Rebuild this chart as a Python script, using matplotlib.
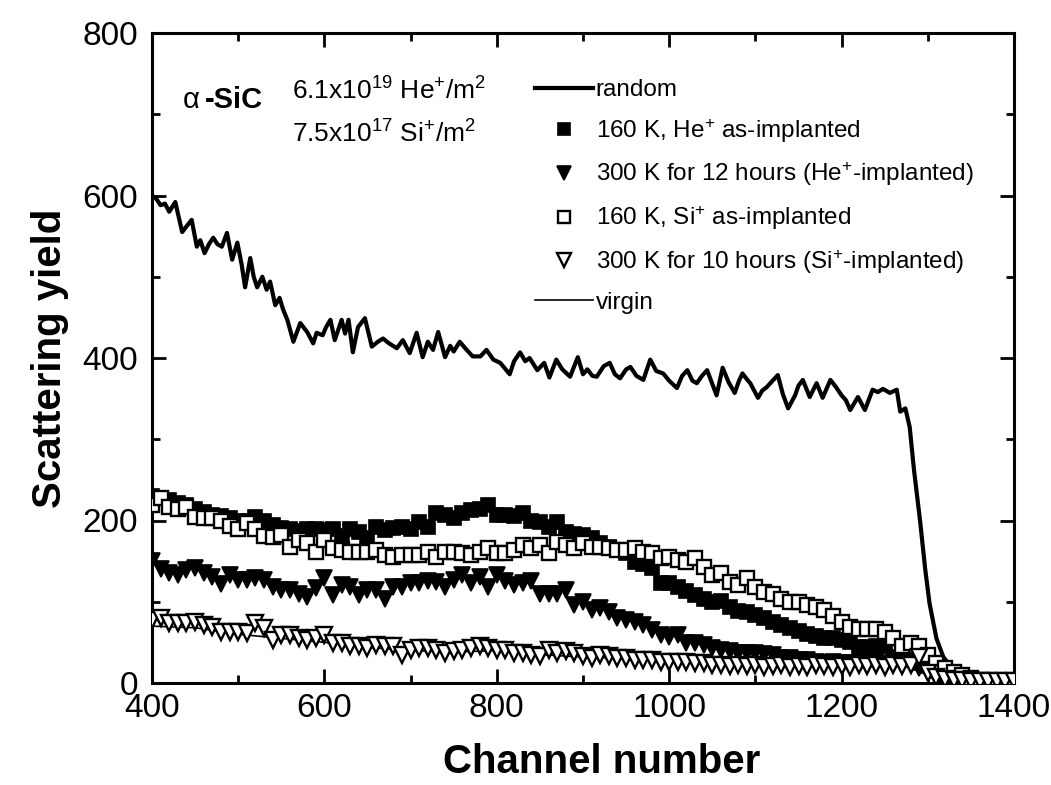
import matplotlib
matplotlib.use('Agg')
import matplotlib.pyplot as plt
import numpy as np

plt.rcParams.update({
    'font.family': ['Liberation Sans', 'DejaVu Sans'],
    'mathtext.fontset': 'custom',
    'mathtext.rm': 'Liberation Sans',
    'mathtext.it': 'Liberation Sans:italic',
    'mathtext.bf': 'Liberation Sans:bold',
    'axes.linewidth': 2.2,
})

# random spectrum (channel, yield)
random_ch = [400, 405, 410, 415, 420, 427, 435, 440, 446, 452, 456, 461, 466, 471, 476, 481, 487, 493, 499, 504,
             508, 514, 518, 522, 528, 533, 537, 543, 548, 552, 557, 564, 572, 580, 587, 591, 598, 602, 607, 612,
             620, 624, 628, 633, 639, 647, 655, 662, 668, 675, 684, 691, 699, 707, 714, 720, 726, 732, 740, 746,
             750, 757, 765, 772, 781, 788, 796, 804, 815, 820, 827, 833, 838, 847, 855, 861, 869, 876, 885, 894,
             900, 905, 911, 916, 924, 931, 937, 943, 950, 955, 962, 970, 978, 985, 993, 1000, 1009, 1015, 1021, 1027,
             1032, 1038, 1044, 1050, 1055, 1062, 1069, 1076, 1081, 1085, 1090, 1094, 1103, 1108, 1113, 1120, 1126, 1132, 1138, 1146,
             1150, 1155, 1163, 1171, 1178, 1187, 1193, 1200, 1205, 1210, 1219, 1227, 1236, 1242, 1248, 1256, 1264, 1268, 1274, 1279,
             1284, 1291, 1297, 1302, 1310, 1318, 1327, 1337, 1348, 1360, 1380, 1400]
random_y = [600, 596, 588, 590, 580, 592, 555, 562, 570, 537, 545, 529, 540, 548, 540, 537, 554, 521, 542, 515,
            487, 523, 500, 487, 500, 484, 494, 465, 474, 460, 447, 420, 443, 432, 418, 431, 428, 438, 447, 422,
            447, 430, 447, 407, 438, 449, 414, 420, 424, 418, 412, 422, 406, 431, 401, 420, 410, 432, 401, 415,
            408, 420, 410, 402, 402, 410, 398, 394, 380, 396, 407, 396, 400, 385, 394, 376, 398, 386, 377, 401,
            380, 386, 378, 377, 390, 394, 380, 375, 386, 389, 378, 373, 398, 384, 381, 372, 363, 378, 385, 372,
            369, 378, 385, 368, 354, 388, 370, 357, 372, 381, 374, 369, 351, 360, 364, 372, 379, 355, 338, 354,
            366, 373, 352, 369, 351, 373, 365, 354, 348, 336, 352, 336, 361, 358, 362, 357, 361, 334, 338, 315,
            262, 200, 140, 98, 55, 32, 20, 12, 6, 3, 2, 1]

# virgin (aligned) spectrum
virgin_ch = [400, 450, 500, 550, 600, 650, 700, 750, 800, 850, 900, 950, 1000, 1050, 1100, 1150, 1200, 1250, 1280,
             1300, 1320, 1340, 1400]
virgin_y = [70, 68, 60, 55, 50, 44, 40, 38, 40, 35, 32, 30, 26, 23, 21, 20, 20, 20, 22, 12, 5, 2, 1]

# aligned spectra, one point every 10 channels from 400 to 1400
channels = np.arange(400, 1401, 10)
he_160 = [230, 228, 225, 222, 219, 214, 211, 207, 205, 203, 200, 199, 204, 199, 194, 191, 190, 187, 190, 190,
          188, 189, 181, 190, 186, 178, 192, 188, 191, 192, 189, 198, 192, 209, 207, 203, 209, 213, 214, 219,
          207, 207, 205, 209, 200, 198, 192, 198, 186, 184, 182, 178, 172, 168, 164, 160, 149, 146, 141, 123,
          123, 118, 113, 108, 104, 100, 101, 93, 89, 87, 84, 80, 75, 72, 68, 64, 60, 58, 55, 56,
          53, 50, 44, 44, 46, 45, 32, 31, 28, 25, 21, 15, 9, 6, 4, 3, 3, 2, 2, 2, 2]
he_300 = [150, 140, 135, 133, 139, 141, 135, 130, 122, 133, 127, 127, 129, 127, 118, 114, 114, 110, 106, 117,
          129, 108, 121, 118, 108, 114, 114, 104, 118, 118, 123, 123, 125, 124, 118, 127, 133, 123, 130, 118,
          133, 125, 121, 123, 125, 110, 110, 110, 114, 96, 100, 90, 92, 87, 80, 78, 75, 71, 65, 59,
          57, 59, 49, 49, 47, 43, 41, 39, 37, 37, 37, 36, 34, 31, 31, 28, 28, 26, 25, 26,
          25, 25, 25, 25, 26, 24, 23, 24, 25, 18, 12, 7, 5, 3, 3, 2, 2, 2, 2, 2, 2]
si_160 = [219, 228, 217, 214, 217, 204, 203, 203, 199, 193, 190, 197, 189, 181, 180, 182, 167, 176, 172, 161,
          176, 166, 164, 161, 161, 161, 164, 158, 155, 158, 158, 158, 161, 155, 161, 161, 160, 158, 161, 166,
          160, 160, 164, 170, 166, 170, 160, 174, 170, 166, 172, 168, 168, 166, 164, 164, 166, 161, 160, 154,
          155, 151, 149, 154, 143, 133, 135, 124, 121, 129, 118, 112, 110, 104, 100, 100, 96, 94, 90, 82,
          75, 69, 67, 67, 67, 63, 55, 45, 49, 45, 34, 25, 18, 14, 10, 6, 4, 3, 3, 2, 2]
si_300 = [78, 80, 74, 74, 74, 75, 71, 69, 63, 63, 63, 62, 74, 68, 53, 59, 59, 55, 53, 55,
          59, 49, 49, 45, 45, 43, 47, 45, 45, 34, 41, 43, 43, 41, 37, 39, 41, 43, 45, 43,
          41, 41, 37, 37, 34, 33, 41, 37, 39, 37, 33, 31, 34, 33, 31, 31, 28, 28, 28, 26,
          26, 26, 26, 25, 25, 22, 22, 21, 22, 21, 22, 20, 21, 22, 20, 21, 20, 22, 21, 20,
          21, 20, 22, 21, 22, 20, 22, 21, 22, 32, 12, 7, 5, 4, 4, 3, 3, 3, 3, 3, 3]

fig = plt.figure(figsize=(10.51, 7.85), dpi=100)
ax = fig.add_axes([152 / 1051, 1 - 683 / 785, (1014 - 152) / 1051, (683 - 33) / 785])

ax.plot(random_ch, random_y, color='black', lw=3.0, label='random', zorder=3)
ax.plot(channels, he_160, ls='none', marker='s', ms=10.5, mfc='black', mec='black', mew=1.2,
        label=r'160 K, He$^{+}$ as-implanted', zorder=4)
ax.plot(channels, he_300, ls='none', marker='v', ms=11.5, mfc='black', mec='black', mew=1.2,
        label=r'300 K for 12 hours (He$^{+}$-implanted)', zorder=4)
ax.plot(channels, si_160, ls='none', marker='s', ms=10.5, mfc='white', mec='black', mew=1.7,
        label=r'160 K, Si$^{+}$ as-implanted', zorder=5)
ax.plot(channels, si_300, ls='none', marker='v', ms=11.5, mfc='white', mec='black', mew=1.7,
        label=r'300 K for 10 hours (Si$^{+}$-implanted)', zorder=5)
ax.plot(virgin_ch, virgin_y, color='black', lw=1.2, label='virgin', zorder=2)

ax.set_xlim(400, 1400)
ax.set_ylim(0, 800)
ax.set_xticks([400, 600, 800, 1000, 1200, 1400])
ax.set_yticks([0, 200, 400, 600, 800])
ax.set_xticks(np.arange(500, 1400, 200), minor=True)
ax.set_yticks([100, 300, 500, 700], minor=True)
ax.tick_params(which='both', direction='in', top=True, right=True, width=2, labelsize=24)
ax.tick_params(axis='x', pad=7)
ax.tick_params(axis='y', pad=10)
ax.tick_params(which='major', length=10)
ax.tick_params(which='minor', length=6)

ax.set_xlabel('Channel number', fontsize=29, fontweight='bold', labelpad=14)
ax.xaxis.label.set_x(0.522)
ax.set_ylabel('Scattering yield', fontsize=29, fontweight='bold', labelpad=10)

ax.text(446, 717, '\u03b1', fontsize=21, ha='center', va='center')
ax.text(461, 717, '-SiC', fontsize=21, fontweight='bold', ha='left', va='center')
ax.text(562, 718, r'6.1x10$^{19}$ He$^{+}$/m$^{2}$', fontsize=19, ha='left', va='baseline')
ax.text(562, 665, r'7.5x10$^{17}$ Si$^{+}$/m$^{2}$', fontsize=19, ha='left', va='baseline')

ax.legend(loc='upper left', bbox_to_anchor=(535 / 1051, 1 - 79 / 785), bbox_transform=fig.transFigure,
          frameon=False, fontsize=17.5, handlelength=2.4, handletextpad=0.1, labelspacing=0.65,
          borderpad=0, borderaxespad=0, numpoints=1, markerscale=0.85)

fig.savefig('out.png', dpi=100)
